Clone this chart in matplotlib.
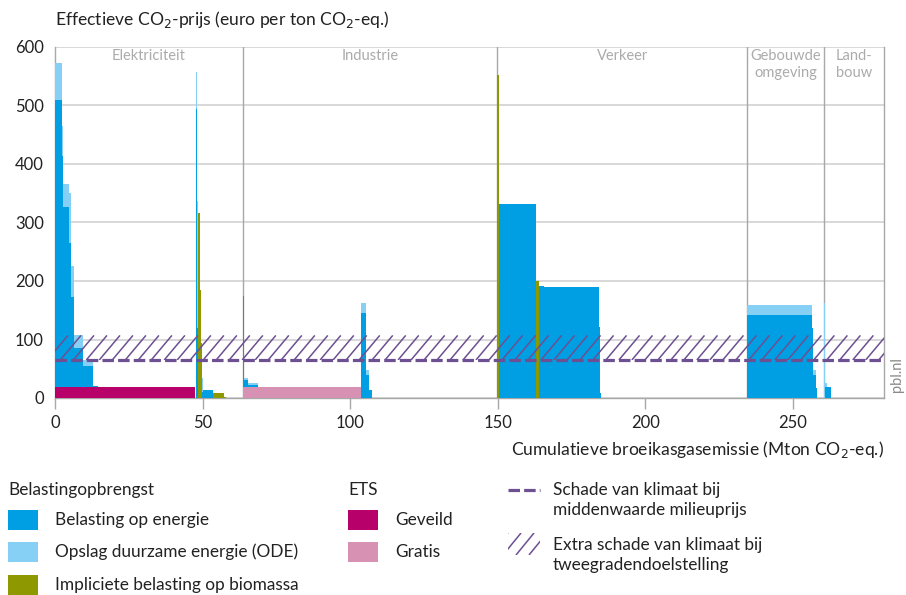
import numpy as np
import matplotlib
matplotlib.use("Agg")
import matplotlib.pyplot as plt
from matplotlib.patches import Rectangle
from matplotlib.collections import LineCollection

plt.rcParams['font.family'] = ['Lato', 'DejaVu Sans']

# colours
BLUE = '#009fe3'
LIGHT = '#86d0f5'
OLIVE = '#8e9800'
MAGENTA = '#b8006a'
PINK = '#d791b3'
PURPLE = '#6c5091'
GRID = '#d6d6d6'
SPINE = '#a8a8a8'
SECTOR_GREY = '#ababab'

# belasting op energie + ODE: start (Mton), breedte (Mton), energie, ODE-opslag (euro/ton)
bl_start = [0.0, 2.3, 2.7, 4.7, 5.4, 6.4, 9.6, 12.9,
            47.6, 48.0, 49.2, 49.6, 50.0,
            63.7, 63.9, 65.5, 68.9, 103.7, 105.4, 106.3,
            150.4, 164.1, 165.7, 184.3, 184.6,
            234.5, 256.3, 256.6, 257.6,
            260.6, 260.8, 261.6]
bl_width = [2.3, 0.4, 2.0, 0.7, 1.0, 3.2, 3.3, 1.6,
            0.4, 0.3, 0.4, 0.4, 3.6,
            0.2, 1.6, 3.4, 1.7, 1.7, 0.9, 1.0,
            12.4, 1.6, 18.6, 0.3, 0.5,
            21.8, 0.3, 1.0, 0.6,
            0.2, 0.8, 1.2]
energie = [509, 414, 327, 265, 173, 85, 55, 21,
           494, 120, 30, 10, 14,
           175, 31, 22, 19, 145, 39, 14,
           332, 191, 190, 121, 8,
           142, 120, 39, 17,
           0, 19, 19]
ode = [63, 51, 39, 85, 52, 22, 10, 0,
       63, 216, 50, 25, 0,
       0, 4, 4, 0, 17, 9, 0,
       0, 0, 0, 0, 0,
       17, 0, 9, 0,
       162, 7, 0]

# impliciete belasting op biomassa
bio_start = [48.3, 49.0, 49.4, 53.6, 57.4, 149.8, 162.8]
bio_width = [0.7, 0.4, 0.4, 3.8, 0.6, 0.6, 1.3]
biomassa = [316, 185, 94, 9, 2, 552, 200]

# ETS
ets_start = [0.0, 63.7]
ets_width = [47.5, 40.0]
ets_prijs = [18, 18]
ets_kleur = [MAGENTA, PINK]

# sectoren
sector_grens = [63.7, 149.7, 234.5, 260.4]
sector_naam = ['Elektriciteit', 'Industrie', 'Verkeer', 'Gebouwde\nomgeving', 'Land-\nbouw']

# schade van klimaat
schade_midden = 65
schade_twee_graden = 107

xmax = 280.8


def hatch_box(ax, x0, x1, y0, y1, step, run, **kw):
    # schuine arcering, afgekapt op een rechthoek
    box = Rectangle((x0, y0), x1 - x0, y1 - y0, fc='none', ec='none')
    ax.add_patch(box)
    starts = np.arange(x0 - abs(run) - step, x1 + step, step)
    segs = [[(s, y0), (s + run, y1)] for s in starts]
    lc = LineCollection(segs, **kw)
    ax.add_collection(lc)
    lc.set_clip_path(box)
    return lc


fig = plt.figure(figsize=(9.06, 5.95), dpi=100)
ax = fig.add_axes([55 / 906, 1 - 398 / 595, 829 / 906, 351 / 595])

ax.bar(bl_start, energie, width=bl_width, align='edge', color=BLUE, linewidth=0, zorder=3)
ax.bar(bl_start, ode, width=bl_width, bottom=energie, align='edge', color=LIGHT, linewidth=0, zorder=3)
ax.bar(bio_start, biomassa, width=bio_width, align='edge', color=OLIVE, linewidth=0, zorder=3)
ax.bar(ets_start, ets_prijs, width=ets_width, align='edge', color=ets_kleur, linewidth=0, zorder=4)

for g in sector_grens:
    ax.axvline(g, color=SPINE, lw=1, zorder=2)

hatch_box(ax, 0, xmax, schade_midden, schade_twee_graden, 4.4, 7.0,
          colors=PURPLE, linewidths=1.1, zorder=5)
ax.axhline(schade_midden, color=PURPLE, lw=2.3, dashes=(3.6, 1.3), zorder=6)

grenzen = [0] + sector_grens + [xmax]
for i, naam in enumerate(sector_naam):
    ax.text((grenzen[i] + grenzen[i + 1]) / 2, 596, naam, ha='center', va='top',
            color=SECTOR_GREY, fontsize=10.5, linespacing=1.25, zorder=7)

ax.set_xlim(0, xmax)
ax.set_ylim(0, 600)
ax.set_xticks([0, 50, 100, 150, 200, 250])
ax.set_yticks([0, 100, 200, 300, 400, 500, 600])
ax.yaxis.grid(True, color=GRID, lw=1.3, zorder=1)
ax.set_axisbelow(True)
ax.tick_params(axis='y', length=0, pad=8, labelsize=12, labelcolor='#222222')
ax.tick_params(axis='x', length=8, width=1, color=SPINE, direction='out', pad=4,
               labelsize=12, labelcolor='#222222')
for s in ['left', 'bottom', 'right']:
    ax.spines[s].set_color(SPINE)
    ax.spines[s].set_linewidth(1)
ax.spines['top'].set_visible(False)

fig.text(55 / 906, 1 - 20 / 595, 'Effectieve CO$_2$-prijs (euro per ton CO$_2$-eq.)',
         va='center', ha='left', fontsize=12.6, color='#222222')
fig.text(884 / 906, 1 - 449 / 595, 'Cumulatieve broeikasgasemissie (Mton CO$_2$-eq.)',
         va='center', ha='right', fontsize=12.6, color='#222222')
fig.text(897 / 906, 1 - 375 / 595, 'pbl.nl', rotation=90, va='center', ha='center',
         fontsize=10.5, color='#8a8a8a')

# legenda, in pixelcoordinaten
lax = fig.add_axes([0, 0, 1, 1])
lax.set_xlim(0, 906)
lax.set_ylim(595, 0)
lax.axis('off')

fs = 12.4
lax.text(8, 490, 'Belastingopbrengst', va='center', fontsize=fs, color='#222222')
for y, kleur, label in [(520, BLUE, 'Belasting op energie'),
                        (552, LIGHT, 'Opslag duurzame energie (ODE)'),
                        (585, OLIVE, 'Impliciete belasting op biomassa')]:
    lax.add_patch(Rectangle((8, y - 10), 30, 20, color=kleur, lw=0))
    lax.text(55, y, label, va='center', fontsize=fs, color='#222222')

lax.text(348, 490, 'ETS', va='center', fontsize=fs, color='#222222')
for y, kleur, label in [(520, MAGENTA, 'Geveild'), (552, PINK, 'Gratis')]:
    lax.add_patch(Rectangle((348, y - 10), 30, 20, color=kleur, lw=0))
    lax.text(395, y, label, va='center', fontsize=fs, color='#222222')

lax.plot([508, 540], [490, 490], color=PURPLE, lw=2.3, dashes=(3.6, 1.3))
lax.text(553, 500, 'Schade van klimaat bij\nmiddenwaarde milieuprijs', va='center',
         fontsize=fs, color='#222222', linespacing=1.3)
hatch_box(lax, 508, 540, 555, 533, 13, 18, colors=PURPLE, linewidths=1.1)
lax.text(553, 555, 'Extra schade van klimaat bij\ntweegradendoelstelling', va='center',
         fontsize=fs, color='#222222', linespacing=1.3)

fig.savefig('out.png', dpi=100)
